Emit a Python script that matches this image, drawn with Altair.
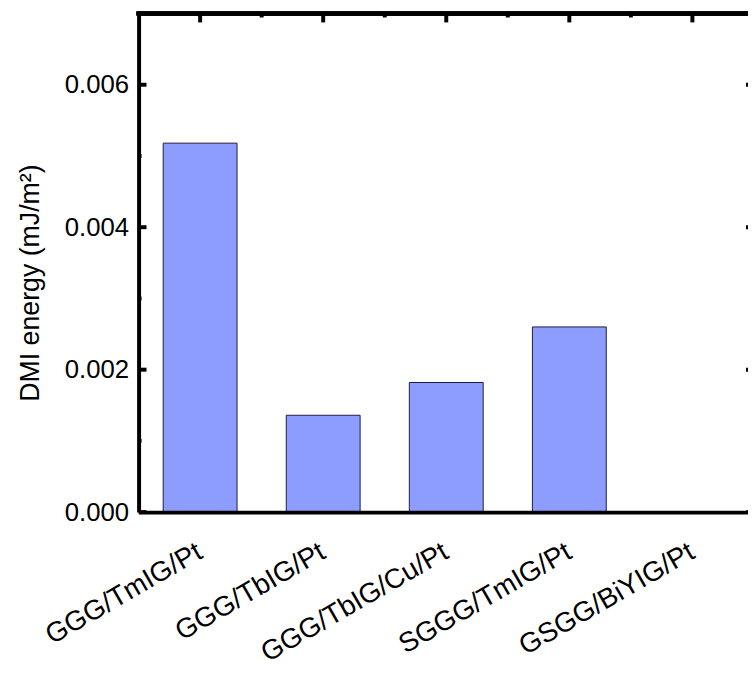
import altair as alt
import pandas as pd

categories = ["GGG/TmIG/Pt", "GGG/TbIG/Pt", "GGG/TbIG/Cu/Pt", "SGGG/TmIG/Pt", "GSGG/BiYIG/Pt"]
dmi_values = [0.00518, 0.00136, 0.00182, 0.00260, 0.0]
y_major_ticks = [0.000, 0.002, 0.004, 0.006]
y_minor_ticks = [0.001, 0.003, 0.005]

bars_df = pd.DataFrame({"sample": categories, "dmi": dmi_values})
major_df = pd.DataFrame({"dmi": y_major_ticks})
minor_df = pd.DataFrame({"dmi": y_minor_ticks})

FONT = "Liberation Sans"
W, H = 616, 504
xscale = alt.Scale(domain=categories, range=[0, 622], paddingInner=0, paddingOuter=0)
yscale = alt.Scale(domain=[0, 0.007], nice=False, zero=True)

x_axis = alt.Axis(
    title=None, orient="bottom", labelAngle=-30, labelAlign="right",
    labelBaseline="middle", labelFontSize=28, labelFont=FONT, labelColor="black",
    labelPadding=38, labelOffset=0, ticks=False, domainColor="black", domainWidth=4, zindex=1,
    labelOverlap=False, labelLimit=400,
)
y_axis = alt.Axis(
    title="DMI energy (mJ/m²)", values=y_major_ticks, format=".3f", ticks=False,
    labelFontSize=26, labelFont=FONT, labelColor="black", labelPadding=10,
    domainColor="black", domainWidth=4, grid=False, zindex=1,
    titleFontSize=27, titleFont=FONT, titleFontWeight="normal", titleColor="black",
    titleX=-109, titleY=272, titleAngle=-90, titleAlign="center", titleBaseline="middle",
)

X = lambda **kw: alt.X("sample:N", scale=xscale, sort=categories, axis=x_axis, **kw)
Y = lambda: alt.Y("dmi:Q", scale=yscale, axis=y_axis)

bars = alt.Chart(bars_df).mark_bar(
    width={"band": 0.6}, color="#8c9cff", stroke="#1c1c40", strokeWidth=1
).encode(x=X(), y=Y())

tick_style = dict(color="black", strokeWidth=4)

left_major = alt.Chart(major_df).mark_rule(**tick_style).encode(
    y=Y(), x=alt.value(0), x2=alt.value(8)
)
left_minor = alt.Chart(minor_df).mark_rule(**tick_style).encode(
    y=Y(), x=alt.value(0), x2=alt.value(3)
)
right_major = alt.Chart(major_df).mark_rule(**tick_style).encode(
    y=Y(), x=alt.value(614), x2=alt.value(622)
)
top_major = alt.Chart(bars_df).mark_rule(**tick_style).encode(
    x=X(), y=alt.value(0), y2=alt.value(9),
)
top_minor = alt.Chart(bars_df).transform_filter(
    alt.datum.sample != categories[0]
).mark_rule(**tick_style).encode(
    x=X(bandPosition=0), y=alt.value(0), y2=alt.value(4),
)
top_frame = alt.Chart(bars_df).mark_rule(color="black", strokeWidth=4).encode(
    y=alt.value(0), x=alt.value(-2), x2=alt.value(622)
)

chart = alt.layer(
    bars, left_major, left_minor, right_major, top_major, top_minor, top_frame
).properties(
    width=W, height=H,
    padding={"left": 132, "top": 2, "right": 0, "bottom": 155},
    autosize="none",
).configure_view(stroke=None).configure(background="white")

chart.save("out.html", embed_options={"renderer": "svg", "actions": False})
